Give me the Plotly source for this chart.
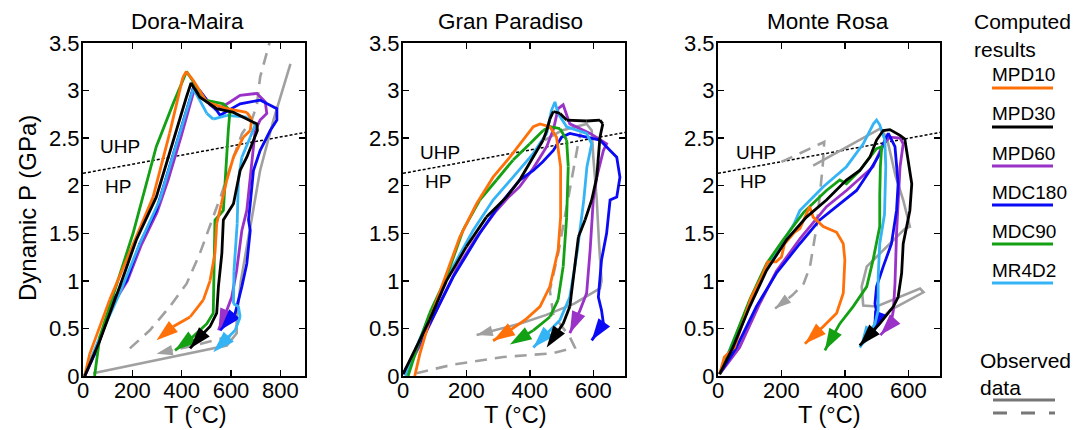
import plotly.graph_objects as go

FONT = "Arial, Liberation Sans, sans-serif"

# ---------------- data (T in degC, P in GPa) ----------------
panel_titles = ["Dora-Maira", "Gran Paradiso", "Monte Rosa"]
x_max = [900, 700, 700]
x_ticks = [[0, 200, 400, 600, 800], [0, 200, 400, 600], [0, 200, 400, 600]]
y_ticks = [0, 0.5, 1, 1.5, 2, 2.5, 3, 3.5]
y_ticktext = ["0", "0.5", "1", "1.5", "2", "2.5", "3", "3.5"]

series_names = ["MPD10", "MPD30", "MPD60", "MDC180", "MDC90", "MR4D2"]
series_colors = ["#ff7009", "#000000", "#9a32c8", "#0a0af5", "#13a013", "#35b4f5"]

# Dora-Maira
dm_mpd10_T = [7, 27, 108, 203, 284, 351, 405, 419, 446, 502, 583, 664, 684, 678, 650, 610, 583, 560, 542, 535, 515, 488, 434, 366, 298]
dm_mpd10_P = [0, 0.23, 0.8, 1.39, 1.88, 2.55, 3.14, 3.2, 3.11, 2.88, 2.81, 2.77, 2.70, 2.58, 2.51, 2.30, 2.06, 1.8, 1.6, 1.29, 1.0, 0.8, 0.62, 0.52, 0.375]
dm_mpd30_T = [7, 68, 149, 216, 297, 365, 419, 438, 474, 542, 610, 664, 705, 707, 664, 637, 610, 569, 563, 549, 542, 515, 474, 434]
dm_mpd30_P = [0, 0.37, 0.94, 1.43, 1.88, 2.48, 2.93, 3.08, 2.93, 2.81, 2.77, 2.70, 2.65, 2.58, 2.30, 2.16, 1.81, 1.64, 1.29, 0.94, 0.66, 0.52, 0.41, 0.29]
dm_mpd60_T = [7, 50, 120, 180, 235, 300, 345, 398, 450, 478, 515, 545, 596, 637, 705, 739, 745, 718, 698, 684, 664, 644, 623, 603, 583, 549]
dm_mpd60_P = [0, 0.25, 0.75, 1.0, 1.37, 1.72, 2.06, 2.52, 3.0, 2.98, 2.85, 2.8, 2.88, 2.95, 2.97, 2.88, 2.76, 2.69, 2.58, 2.23, 1.74, 1.53, 1.11, 0.83, 0.69, 0.48]
dm_mdc180_T = [7, 54, 122, 176, 230, 297, 338, 392, 446, 473, 514, 542, 556, 595, 637, 718, 786, 786, 759, 718, 691, 678, 671, 678, 664, 644, 630, 617, 556]
dm_mdc180_P = [0, 0.27, 0.8, 1.0, 1.39, 1.74, 2.09, 2.55, 3.02, 3.0, 2.86, 2.79, 2.74, 2.80, 2.86, 2.9, 2.81, 2.69, 2.58, 2.37, 2.16, 1.81, 1.64, 1.53, 1.18, 0.94, 0.8, 0.66, 0.48]
dm_mdc90_T = [47, 68, 203, 297, 365, 420, 495, 569, 596, 589, 569, 535, 528, 502, 440, 373]
dm_mdc90_P = [0, 0.41, 1.5, 2.41, 2.86, 3.2, 2.9, 2.86, 2.79, 2.58, 1.74, 1.64, 0.66, 0.55, 0.4, 0.27]
dm_mr4d2_T = [5, 68, 149, 230, 311, 378, 432, 447, 473, 502, 528, 583, 664, 698, 678, 644, 630, 625, 612, 610, 630, 637, 617, 528]
dm_mr4d2_P = [0, 0.41, 0.87, 1.39, 1.85, 2.44, 2.9, 3.02, 2.9, 2.76, 2.7, 2.74, 2.72, 2.64, 2.51, 2.3, 2.06, 1.6, 1.1, 0.76, 0.73, 0.62, 0.48, 0.25]
dm_obs_solid_T = [41, 583, 623, 623, 640, 684, 718, 772, 841]
dm_obs_solid_P = [0.03, 0.32, 0.45, 0.6, 1.0, 1.67, 2.16, 2.69, 3.28]
dm_obs_dash_T = [190, 271, 352, 420, 474, 510, 560, 610, 645, 684, 705, 718, 759]
dm_obs_dash_P = [0.29, 0.48, 0.73, 0.97, 1.29, 1.55, 1.9, 2.3, 2.55, 2.69, 2.85, 3.14, 3.53]
dm_obs_arrow_T = [600, 450, 298]
dm_obs_arrow_P = [0.42, 0.32, 0.235]

# Gran Paradiso
gp_mpd10_T = [37, 53, 84, 137, 179, 232, 284, 337, 379, 411, 432, 463, 484, 497, 497, 489, 463, 432, 389, 337, 284]
gp_mpd10_P = [0, 0.23, 0.59, 1.08, 1.46, 1.81, 2.09, 2.3, 2.48, 2.62, 2.65, 2.62, 2.51, 2.2, 1.67, 1.32, 0.94, 0.73, 0.6, 0.48, 0.37]
gp_mpd30_T = [0, 42, 84, 137, 200, 263, 326, 368, 411, 442, 453, 463, 474, 495, 516, 579, 621, 630, 621, 616, 611, 595, 574, 553, 542, 526, 505, 453]
gp_mpd30_P = [0.02, 0.3, 0.59, 1.0, 1.36, 1.67, 1.88, 2.06, 2.3, 2.48, 2.58, 2.7, 2.78, 2.76, 2.69, 2.68, 2.69, 2.65, 2.51, 2.3, 2.09, 1.85, 1.64, 1.46, 1.15, 0.73, 0.55, 0.3]
gp_mpd60_T = [5, 50, 110, 170, 230, 290, 330, 368, 410, 432, 453, 475, 489, 505, 526, 590, 642, 632, 611, 600, 590, 579, 558, 526]
gp_mpd60_P = [0.02, 0.3, 0.72, 1.13, 1.45, 1.72, 1.87, 1.99, 2.18, 2.3, 2.41, 2.6, 2.81, 2.85, 2.65, 2.55, 2.44, 2.37, 2.09, 1.85, 1.32, 0.87, 0.69, 0.45]
gp_mdc180_T = [0, 74, 158, 242, 300, 340, 368, 411, 440, 474, 500, 526, 579, 621, 653, 674, 684, 674, 653, 642, 626, 616, 626, 632, 595]
gp_mdc180_P = [0.02, 0.48, 1.04, 1.5, 1.78, 1.95, 2.06, 2.16, 2.25, 2.37, 2.51, 2.55, 2.51, 2.48, 2.37, 2.3, 2.09, 1.88, 1.85, 1.5, 1.22, 0.83, 0.69, 0.55, 0.375]
gp_mdc90_T = [16, 42, 84, 137, 189, 242, 295, 347, 400, 442, 463, 495, 516, 521, 516, 505, 489, 463, 411, 337]
gp_mdc90_P = [0, 0.27, 0.66, 1.04, 1.53, 1.85, 2.06, 2.27, 2.44, 2.58, 2.62, 2.6, 2.48, 2.2, 1.67, 1.15, 0.8, 0.62, 0.48, 0.33]
gp_mr4d2_T = [8, 42, 95, 158, 221, 284, 347, 411, 453, 468, 479, 489, 516, 579, 595, 580, 570, 550, 526, 495, 411]
gp_mr4d2_P = [0, 0.3, 0.73, 1.15, 1.53, 1.85, 2.09, 2.34, 2.55, 2.79, 2.88, 2.76, 2.62, 2.55, 2.44, 2.2, 1.85, 1.32, 0.83, 0.59, 0.3]
gp_obs_solid_T = [447, 500, 579, 595, 600, 611, 618, 626, 621, 540, 450, 368, 232]
gp_obs_solid_P = [2.48, 2.58, 2.65, 2.58, 2.3, 1.85, 1.4, 1.0, 0.92, 0.76, 0.64, 0.55, 0.43]
gp_obs_dash_T = [42, 158, 316, 474, 542, 526, 474, 463, 490, 515, 535, 550, 560]
gp_obs_dash_P = [0.03, 0.12, 0.2, 0.24, 0.3, 0.41, 0.64, 0.9, 1.3, 1.75, 2.15, 2.4, 2.55]

# Monte Rosa
mr_mpd10_T = [5, 20, 52, 84, 105, 137, 157, 183, 200, 210, 241, 258, 278, 289, 300, 332, 374, 395, 400, 395, 374, 332, 274]
mr_mpd10_P = [0.02, 0.2, 0.3, 0.62, 0.83, 1.04, 1.2, 1.2, 1.25, 1.39, 1.51, 1.55, 1.71, 1.78, 1.67, 1.57, 1.51, 1.39, 1.22, 0.87, 0.66, 0.52, 0.34]
mr_mpd30_T = [5, 47, 100, 153, 216, 279, 342, 405, 447, 479, 500, 521, 542, 574, 589, 600, 611, 605, 595, 584, 579, 568, 553, 510, 447]
mr_mpd30_P = [0.02, 0.3, 0.73, 1.11, 1.43, 1.67, 1.85, 2.06, 2.16, 2.3, 2.48, 2.58, 2.59, 2.53, 2.49, 2.27, 2.02, 1.74, 1.57, 1.39, 1.08, 0.83, 0.73, 0.55, 0.32]
mr_mpd60_T = [5, 68, 130, 184, 260, 342, 405, 489, 521, 542, 574, 584, 574, 568, 563, 558, 553, 545, 512]
mr_mpd60_P = [0.02, 0.3, 0.75, 1.1, 1.45, 1.78, 1.95, 2.2, 2.44, 2.51, 2.5, 2.44, 2.2, 1.85, 1.5, 0.97, 0.69, 0.55, 0.43]
mr_mdc180_T = [5, 58, 121, 184, 258, 321, 384, 437, 479, 511, 526, 537, 558, 568, 563, 547, 521, 500, 495, 505, 489]
mr_mdc180_P = [0.02, 0.3, 0.73, 1.08, 1.39, 1.64, 1.81, 1.95, 2.16, 2.34, 2.48, 2.55, 2.41, 2.02, 1.74, 1.39, 1.15, 0.94, 0.76, 0.59, 0.45]
mr_mdc90_T = [5, 37, 100, 153, 205, 270, 342, 384, 405, 447, 479, 500, 516, 512, 510, 510, 489, 469, 426, 384, 337]
mr_mdc90_P = [0.02, 0.27, 0.8, 1.18, 1.43, 1.72, 1.95, 2.06, 2.02, 2.16, 2.3, 2.39, 2.41, 2.2, 1.9, 1.57, 1.22, 0.94, 0.73, 0.55, 0.27]
mr_mr4d2_T = [5, 37, 89, 142, 195, 240, 258, 290, 332, 405, 458, 490, 500, 510, 526, 529, 525, 510, 505, 505, 495, 447]
mr_mr4d2_P = [0.02, 0.27, 0.69, 1.08, 1.36, 1.6, 1.74, 1.85, 1.99, 2.2, 2.44, 2.65, 2.69, 2.64, 2.48, 2.2, 1.7, 1.39, 1.04, 0.69, 0.55, 0.3]
mr_obs_solid_T = [300, 511, 532, 560, 584, 605, 590, 510, 469, 453, 458, 500, 637, 648, 542, 521]
mr_obs_solid_P = [2.21, 2.6, 2.51, 2.1, 1.85, 1.57, 1.55, 1.29, 1.15, 0.94, 0.74, 0.73, 0.92, 0.88, 0.69, 0.62]
mr_obs_dash_T = [200, 335, 330, 322, 311, 300, 290, 270, 235, 180]
mr_obs_dash_P = [2.25, 2.46, 2.2, 1.9, 1.57, 1.35, 1.15, 0.97, 0.85, 0.71]

uhp_line_P = [2.13, 2.56]
label_UHP = "UHP"
label_HP = "HP"
uhp_label_pos = [(149, 2.41), (116, 2.35), (121, 2.35)]
hp_label_pos = [(141, 1.99), (110, 2.04), (110, 2.04)]

computed = [
    {"MPD10": (dm_mpd10_T, dm_mpd10_P), "MPD30": (dm_mpd30_T, dm_mpd30_P), "MPD60": (dm_mpd60_T, dm_mpd60_P),
     "MDC180": (dm_mdc180_T, dm_mdc180_P), "MDC90": (dm_mdc90_T, dm_mdc90_P), "MR4D2": (dm_mr4d2_T, dm_mr4d2_P)},
    {"MPD10": (gp_mpd10_T, gp_mpd10_P), "MPD30": (gp_mpd30_T, gp_mpd30_P), "MPD60": (gp_mpd60_T, gp_mpd60_P),
     "MDC180": (gp_mdc180_T, gp_mdc180_P), "MDC90": (gp_mdc90_T, gp_mdc90_P), "MR4D2": (gp_mr4d2_T, gp_mr4d2_P)},
    {"MPD10": (mr_mpd10_T, mr_mpd10_P), "MPD30": (mr_mpd30_T, mr_mpd30_P), "MPD60": (mr_mpd60_T, mr_mpd60_P),
     "MDC180": (mr_mdc180_T, mr_mdc180_P), "MDC90": (mr_mdc90_T, mr_mdc90_P), "MR4D2": (mr_mr4d2_T, mr_mr4d2_P)},
]
# observed: (T, P, dashed, arrow)
observed = [
    [(dm_obs_solid_T, dm_obs_solid_P, False, False), (dm_obs_dash_T, dm_obs_dash_P, True, False),
     (dm_obs_arrow_T, dm_obs_arrow_P, True, True)],
    [(gp_obs_solid_T, gp_obs_solid_P, False, True), (gp_obs_dash_T, gp_obs_dash_P, True, False)],
    [(mr_obs_solid_T, mr_obs_solid_P, False, False), (mr_obs_dash_T, mr_obs_dash_P, True, True)],
]

# ---------------- figure ----------------
W, H = 1074, 430
x_domains_px = [(83, 305), (403, 625), (718, 940)]
y_domain_px = (43, 376)

fig = go.Figure()
GRAY = "#a0a0a0"
draw_order = ["MPD60", "MDC180", "MR4D2", "MDC90", "MPD10", "MPD30"]


def add_path(T, P, color, xa, ya, dashed=False, arrow=True, width=2.8, asize=23):
    n = len(T)
    sizes = [0] * (n - 1) + [asize if arrow else 0]
    fig.add_trace(go.Scatter(
        x=T, y=P, mode="lines+markers", xaxis=xa, yaxis=ya, showlegend=False, hoverinfo="skip",
        line=dict(color=color, width=width, dash="12px,8px" if dashed else "solid"),
        marker=dict(symbol="arrow", angleref="previous", size=sizes, color=color,
                    opacity=1, line=dict(width=0)),
    ))


for i in range(3):
    xa = "x" if i == 0 else f"x{i+1}"
    ya = "y" if i == 0 else f"y{i+1}"
    fig.add_trace(go.Scatter(x=[0, x_max[i]], y=uhp_line_P, mode="lines", xaxis=xa, yaxis=ya,
                             showlegend=False, hoverinfo="skip",
                             line=dict(color="black", width=1.5, dash="3px,2px")))
    for (T, P, dashed, arrow) in observed[i]:
        add_path(T, P, GRAY, xa, ya, dashed=dashed, arrow=arrow, width=2.6, asize=17)
    for name in draw_order:
        T, P = computed[i][name]
        add_path(T, P, series_colors[series_names.index(name)], xa, ya)

layout = dict(width=W, height=H, margin=dict(l=0, r=0, t=0, b=0, pad=0, autoexpand=False),
              paper_bgcolor="white", plot_bgcolor="white", showlegend=False,
              font=dict(family=FONT, size=22, color="black"))

for i in range(3):
    xk = "xaxis" if i == 0 else f"xaxis{i+1}"
    yk = "yaxis" if i == 0 else f"yaxis{i+1}"
    x0, x1 = x_domains_px[i]
    common = dict(ticks="inside", ticklen=6, tickwidth=1.5, tickcolor="black", showline=True,
                  linecolor="black", linewidth=2, mirror="ticks", showgrid=False, zeroline=False,
                  automargin=False, tickfont=dict(family=FONT, size=22, color="black"))
    layout[xk] = dict(domain=[x0 / W, x1 / W], range=[0, x_max[i]], tickvals=x_ticks[i],
                      ticklabelstandoff=-6,
                      anchor="y" if i == 0 else f"y{i+1}", **common)
    layout[yk] = dict(domain=[1 - y_domain_px[1] / H, 1 - y_domain_px[0] / H], range=[0, 3.5],
                      tickvals=y_ticks, ticktext=y_ticktext, ticklabelstandoff=-3,
                      anchor="x" if i == 0 else f"x{i+1}", **common)

fig.update_layout(**layout)

ann = []
title_cx = [187, 510, 828]
xlabel_cx = [195, 515, 829]
for i in range(3):
    xa = "x" if i == 0 else f"x{i+1}"
    ya = "y" if i == 0 else f"y{i+1}"
    ann.append(dict(text=panel_titles[i], x=title_cx[i] / W, y=1 - 22 / H, xref="paper", yref="paper",
                    showarrow=False, xanchor="center", yanchor="middle", font=dict(size=22.5)))
    ann.append(dict(text="T (°C)", x=xlabel_cx[i] / W, y=1 - 415 / H,
                    xref="paper", yref="paper", showarrow=False, xanchor="center", yanchor="middle",
                    font=dict(size=23.5)))
    ann.append(dict(text=label_UHP, x=uhp_label_pos[i][0], y=uhp_label_pos[i][1], xref=xa, yref=ya,
                    showarrow=False, font=dict(size=19)))
    ann.append(dict(text=label_HP, x=hp_label_pos[i][0], y=hp_label_pos[i][1], xref=xa, yref=ya,
                    showarrow=False, font=dict(size=19)))
ann.append(dict(text="Dynamic P (GPa)", x=27 / W, y=1 - 208 / H, xref="paper", yref="paper",
                showarrow=False, textangle=-90, xanchor="center", yanchor="middle", font=dict(size=24)))

# legend (drawn manually)
ann.append(dict(text="Computed", x=972 / W, y=1 - 22 / H, xref="paper", yref="paper", showarrow=False,
                xanchor="left", yanchor="middle", font=dict(size=21)))
ann.append(dict(text="results", x=972 / W, y=1 - 50 / H, xref="paper", yref="paper", showarrow=False,
                xanchor="left", yanchor="middle", font=dict(size=21)))
shapes = []
for k, name in enumerate(series_names):
    ty = 75 + k * 39
    ann.append(dict(text=name, x=990 / W, y=1 - ty / H, xref="paper", yref="paper", showarrow=False,
                    xanchor="left", yanchor="middle", font=dict(size=19)))
    ly = 1 - (ty + 13) / H
    shapes.append(dict(type="line", xref="paper", yref="paper", x0=992 / W, x1=1053 / W, y0=ly, y1=ly,
                       line=dict(color=series_colors[k], width=3)))
ann.append(dict(text="Observed", x=978 / W, y=1 - 360 / H, xref="paper", yref="paper", showarrow=False,
                xanchor="left", yanchor="middle", font=dict(size=21)))
ann.append(dict(text="data", x=978 / W, y=1 - 387 / H, xref="paper", yref="paper", showarrow=False,
                xanchor="left", yanchor="middle", font=dict(size=21)))
shapes.append(dict(type="line", xref="paper", yref="paper", x0=993 / W, x1=1055 / W, y0=1 - 400 / H,
                   y1=1 - 400 / H, line=dict(color="#777777", width=3)))
shapes.append(dict(type="line", xref="paper", yref="paper", x0=993 / W, x1=1055 / W, y0=1 - 413 / H,
                   y1=1 - 413 / H, line=dict(color="#777777", width=3, dash="14px,14px")))

fig.update_layout(annotations=ann, shapes=shapes)
fig.write_html("out.html", config={"displayModeBar": False, "staticPlot": True},
               post_script="document.body.style.margin='0px';document.body.style.overflow='hidden';")
